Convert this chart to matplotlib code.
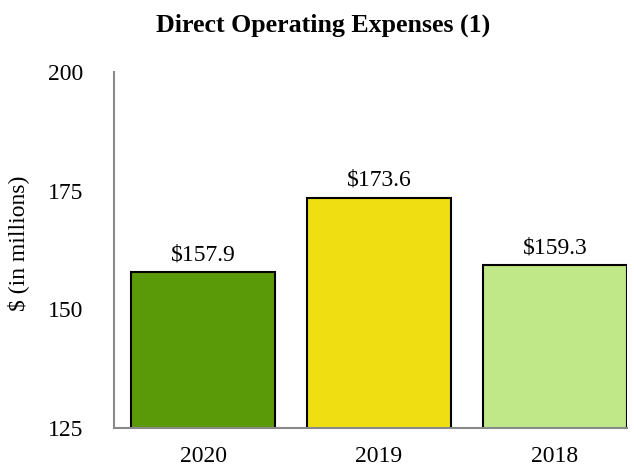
import matplotlib.pyplot as plt

years = ['2020', '2019', '2018']
expenses = [157.9, 173.6, 159.3]
bar_colors = ['#5a9a08', '#efdf12', '#c0e888']

plt.rcParams['font.family'] = ['Liberation Serif', 'DejaVu Serif']
plt.rcParams['font.size'] = 17

fig = plt.figure(figsize=(6.34, 4.68), dpi=100)
ax = fig.add_axes([0.18, 0.0855, 0.809, 0.76])

x = range(len(years))
bars = ax.bar(x, expenses, width=0.82, color=bar_colors,
              edgecolor='black', linewidth=1.5, zorder=2)

for rect, val in zip(bars, expenses):
    ax.annotate(f'${val:.1f}', (rect.get_x() + rect.get_width() / 2, val),
                xytext=(0, 5), textcoords='offset points',
                ha='center', va='bottom', fontsize=17)

ax.set_ylim(125, 200)
ax.set_yticks([125, 150, 175, 200])
ax.set_xlim(-0.506, 2.41)
ax.set_xticks(list(x))
ax.set_xticklabels(years)

ax.tick_params(axis='y', length=0, pad=22)
ax.tick_params(axis='x', length=0, pad=13)

for side in ['top', 'right']:
    ax.spines[side].set_visible(False)
for side in ['left', 'bottom']:
    ax.spines[side].set_color('#898989')
    ax.spines[side].set_linewidth(1.5)

ax.set_ylabel('$ (in millions)', fontsize=17)
ax.yaxis.set_label_coords(-0.166, 0.52)

fig.suptitle('Direct Operating Expenses (1)', fontsize=18.6, fontweight='bold',
             x=0.509, y=0.947, va='center')

fig.savefig('out.png', dpi=100)
